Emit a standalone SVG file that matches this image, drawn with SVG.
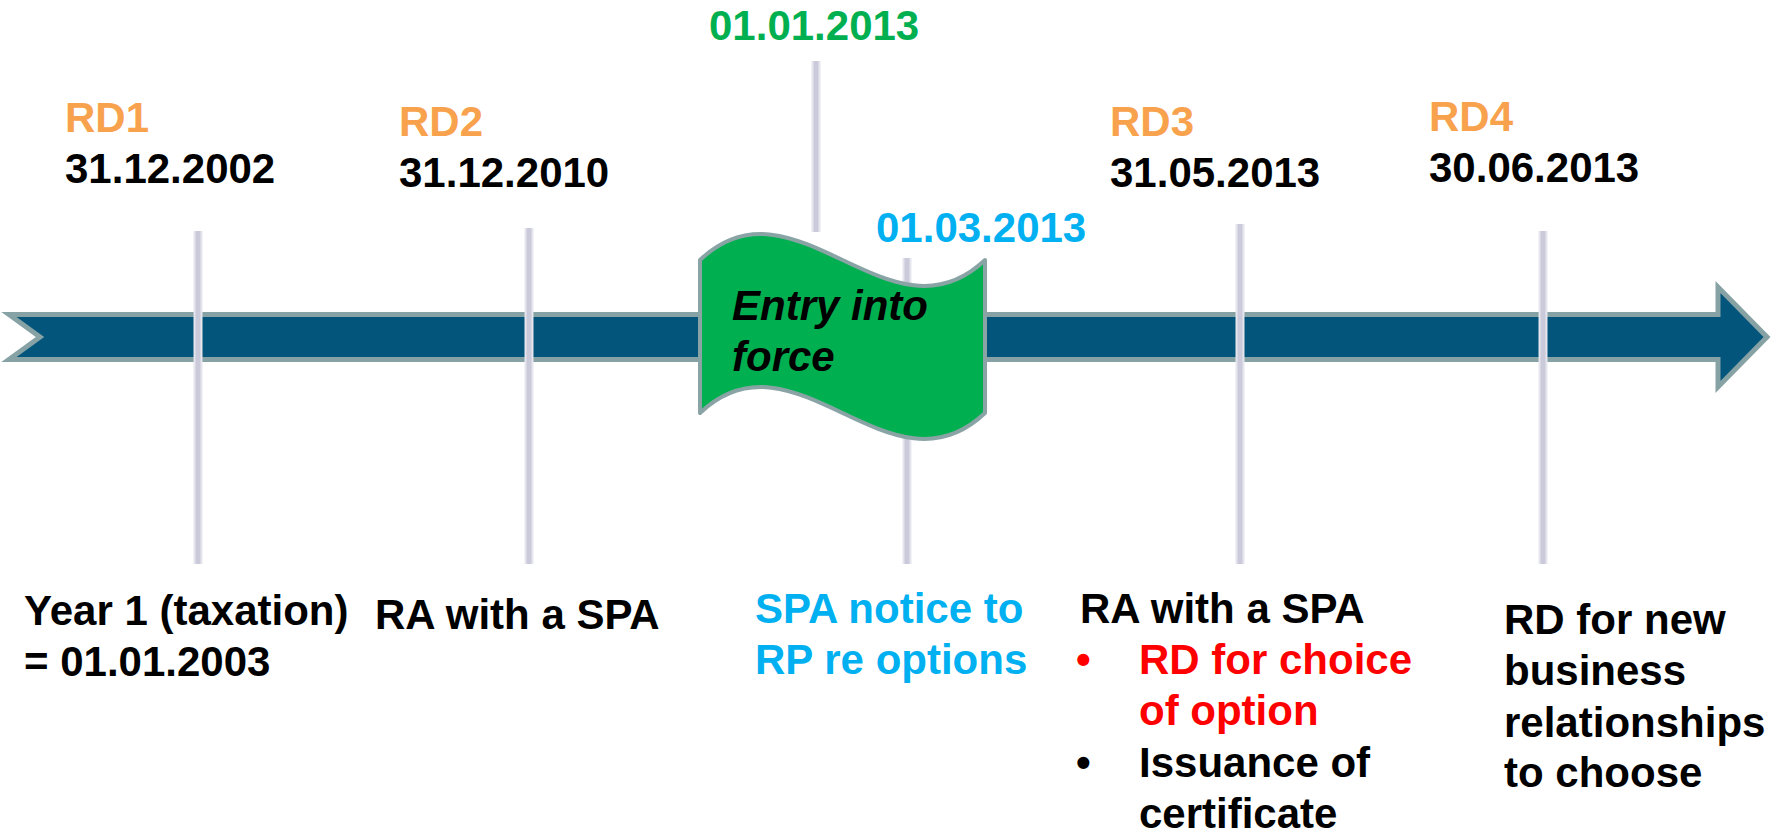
<svg xmlns="http://www.w3.org/2000/svg" width="1784" height="832" viewBox="0 0 1784 832">
<defs>
<style>
text{font-family:"Liberation Sans",Arial,sans-serif;font-weight:bold;font-size:42px;fill:#000}
.or{fill:#F8A24E}
.gr{fill:#00B050}
.bl{fill:#00B0F0}
.rd{fill:#FF0000}
.vl{stroke:#CACADB;stroke-width:5;fill:none}
.vs{stroke:#E6E6EE;stroke-width:9;fill:none}
</style>
</defs>
<rect width="1784" height="832" fill="#fff"/>
<g id="timeline-arrow">
<path d="M9,314.5 L1718,314.5 L1718,287 L1767,337 L1718,387 L1718,359.5 L9,359.5 L40,337 Z" fill="#03557C" stroke="#87A2A4" stroke-width="5" stroke-linejoin="miter"/>
</g>
<g id="connectors">
<line class="vs" x1="198" y1="231" x2="198" y2="564"/>
<line class="vl" x1="198" y1="231" x2="198" y2="564"/>
<line class="vs" x1="529" y1="228" x2="529" y2="564"/>
<line class="vl" x1="529" y1="228" x2="529" y2="564"/>
<line class="vs" x1="816" y1="61" x2="816" y2="232"/>
<line class="vl" x1="816" y1="61" x2="816" y2="232"/>
<line class="vs" x1="907" y1="258" x2="907" y2="564"/>
<line class="vl" x1="907" y1="258" x2="907" y2="564"/>
<line class="vs" x1="1240" y1="224" x2="1240" y2="564"/>
<line class="vl" x1="1240" y1="224" x2="1240" y2="564"/>
<line class="vs" x1="1543" y1="231" x2="1543" y2="564"/>
<line class="vl" x1="1543" y1="231" x2="1543" y2="564"/>
</g>
<g id="flag">
<path d="M700,260 C795,170 890,350 985,260 L985,413 C890,503 795,323 700,413 Z" fill="#00B050" stroke="#8AA4A6" stroke-width="4" stroke-linejoin="round"/>
<text x="732" y="320" font-style="italic" font-size="41">Entry into</text>
<text x="732" y="371" font-style="italic" font-size="41">force</text>
</g>
<g id="rd1">
<text class="or" x="65" y="132">RD1</text>
<text x="65" y="183">31.12.2002</text>
<text x="24" y="625">Year 1 (taxation)</text>
<text x="24" y="676">= 01.01.2003</text>
</g>
<g id="rd2">
<text class="or" x="399" y="136">RD2</text>
<text x="399" y="187">31.12.2010</text>
<text x="375" y="629">RA with a SPA</text>
</g>
<g id="entry-date">
<text class="gr" x="709" y="40">01.01.2013</text>
</g>
<g id="notice">
<text class="bl" x="876" y="242">01.03.2013</text>
<text class="bl" x="755" y="623">SPA notice to</text>
<text class="bl" x="755" y="674">RP re options</text>
</g>
<g id="rd3">
<text class="or" x="1110" y="136">RD3</text>
<text x="1110" y="187">31.05.2013</text>
<text x="1080" y="623">RA with a SPA</text>
<text class="rd" x="1076" y="674">•</text>
<text class="rd" x="1139" y="674">RD for choice</text>
<text class="rd" x="1139" y="725">of option</text>
<text x="1076" y="777">•</text>
<text x="1139" y="777">Issuance of</text>
<text x="1139" y="828">certificate</text>
</g>
<g id="rd4">
<text class="or" x="1429" y="131">RD4</text>
<text x="1429" y="182">30.06.2013</text>
<text x="1504" y="634">RD for new</text>
<text x="1504" y="685">business</text>
<text x="1504" y="737">relationships</text>
<text x="1504" y="787">to choose</text>
</g>
</svg>
